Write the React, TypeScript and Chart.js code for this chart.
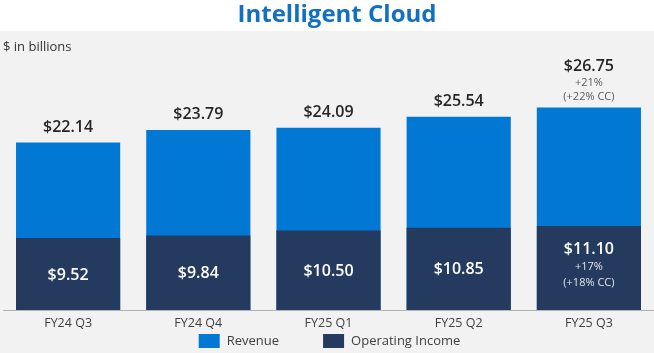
import React, { useEffect, useRef } from "react";
import { Chart, registerables } from "chart.js";

Chart.register(...registerables);

const categories = ["FY24 Q3", "FY24 Q4", "FY25 Q1", "FY25 Q2", "FY25 Q3"];
const revenue = [22.14, 23.79, 24.09, 25.54, 26.75];
const operatingIncome = [9.52, 9.84, 10.5, 10.85, 11.1];
const revenueGrowth = ["", "", "", "", "+21%"];
const revenueGrowthCC = ["", "", "", "", "(+22% CC)"];
const incomeGrowth = ["", "", "", "", "+17%"];
const incomeGrowthCC = ["", "", "", "", "(+18% CC)"];
const seriesNames = ["Revenue", "Operating Income"];
const titleText = "Intelligent Cloud";
const unitText = "$ in billions";

const FONT = "'Open Sans', 'Noto Sans', sans-serif";
const BLUE = "#0078d4";
const NAVY = "#243a5e";

const fmt = (v: number) => "$" + v.toFixed(2);

const decorPlugin = {
  id: "decor",
  beforeDraw(chart: any) {
    const { ctx, width, height } = chart;
    ctx.save();
    ctx.fillStyle = "#ffffff";
    ctx.fillRect(0, 0, width, height);
    ctx.fillStyle = "#f2f2f2";
    ctx.fillRect(0, 31, width, height - 31);
    // title
    ctx.fillStyle = "#1170c4";
    ctx.font = `bold 24px ${FONT}`;
    ctx.textAlign = "center";
    ctx.textBaseline = "middle";
    ctx.fillText(titleText, 337, 15);
    // unit
    ctx.fillStyle = "#333333";
    ctx.font = `13px ${FONT}`;
    ctx.textAlign = "left";
    ctx.fillText(unitText, 3, 47);
    ctx.restore();
  },
  afterDatasetsDraw(chart: any) {
    const { ctx } = chart;
    const revMeta = chart.getDatasetMeta(0);
    const oiMeta = chart.getDatasetMeta(1);
    ctx.save();
    ctx.textAlign = "center";
    ctx.textBaseline = "middle";
    revMeta.data.forEach((bar: any, i: number) => {
      const x = bar.x;
      const top = bar.y;
      const hasNote = revenueGrowth[i] !== "";
      ctx.fillStyle = "#262626";
      ctx.font = `600 16px ${FONT}`;
      ctx.fillText(fmt(revenue[i]), x, hasNote ? top - 41 : top - 15);
      if (hasNote) {
        ctx.fillStyle = "#595959";
        ctx.font = `11px ${FONT}`;
        ctx.fillText(revenueGrowth[i], x, top - 25);
        ctx.fillText(revenueGrowthCC[i], x, top - 11);
      }
    });
    oiMeta.data.forEach((bar: any, i: number) => {
      const x = bar.x;
      const mid = (bar.y + bar.base) / 2 + 1;
      const hasNote = incomeGrowth[i] !== "";
      ctx.fillStyle = "#ffffff";
      ctx.font = `600 16px ${FONT}`;
      ctx.fillText(fmt(operatingIncome[i]), x, hasNote ? mid - 20 : mid);
      if (hasNote) {
        ctx.fillStyle = "#dfe5ee";
        ctx.font = `11px ${FONT}`;
        ctx.fillText(incomeGrowth[i], x, mid - 2);
        ctx.fillText(incomeGrowthCC[i], x, mid + 14);
      }
    });
    ctx.restore();
  },
  afterDraw(chart: any) {
    const { ctx, chartArea } = chart;
    const ds = chart.data.datasets;
    ctx.save();
    ctx.font = `13px ${FONT}`;
    ctx.textBaseline = "middle";
    ctx.textAlign = "left";
    const boxW = 21, boxH = 14, gap = 7, spacing = 44;
    const widths = ds.map((d: any) => boxW + gap + ctx.measureText(d.label).width);
    const total = widths.reduce((a: number, b: number) => a + b, 0) + spacing * (ds.length - 1);
    let x = (chartArea.left + chartArea.right) / 2 - total / 2 + 1;
    const cy = 341;
    ds.forEach((d: any, i: number) => {
      ctx.fillStyle = d.backgroundColor;
      ctx.fillRect(x, cy - boxH / 2, boxW, boxH);
      ctx.fillStyle = "#404040";
      ctx.fillText(d.label, x + boxW + gap, cy + 0.5);
      x += widths[i] + spacing;
    });
    ctx.restore();
  },
};

export default function App() {
  const ref = useRef<HTMLCanvasElement | null>(null);
  useEffect(() => {
    document.body.style.margin = "0";
    const chart = new Chart(ref.current as HTMLCanvasElement, {
      type: "bar",
      data: {
        labels: categories,
        datasets: [
          {
            label: seriesNames[0],
            data: revenue,
            backgroundColor: BLUE,
            grouped: false,
            order: 2,
            barPercentage: 0.8,
            categoryPercentage: 1,
          } as any,
          {
            label: seriesNames[1],
            data: operatingIncome,
            backgroundColor: NAVY,
            grouped: false,
            order: 1,
            barPercentage: 0.8,
            categoryPercentage: 1,
          } as any,
        ],
      },
      options: {
        animation: false,
        responsive: false,
        layout: { padding: { left: 3, right: 0, top: 37.5, bottom: 16 } },
        plugins: {
          legend: { display: false },
          tooltip: { enabled: false },
          title: { display: false },
        },
        scales: {
          x: {
            grid: { display: false, drawTicks: false },
            border: { display: true, color: "#b3b3b3", width: 1 },
            ticks: { color: "#404040", font: { family: FONT, size: 12.5 }, padding: 6 },
          },
          y: { display: false, min: 0, max: 36 },
        },
      },
      plugins: [decorPlugin],
    });
    return () => chart.destroy();
  }, []);
  return (
    <div style={{ position: "fixed", left: 0, top: 0, width: 654, height: 353 }}>
      <canvas ref={ref} width={654} height={353} style={{ display: "block" }} />
    </div>
  );
}
